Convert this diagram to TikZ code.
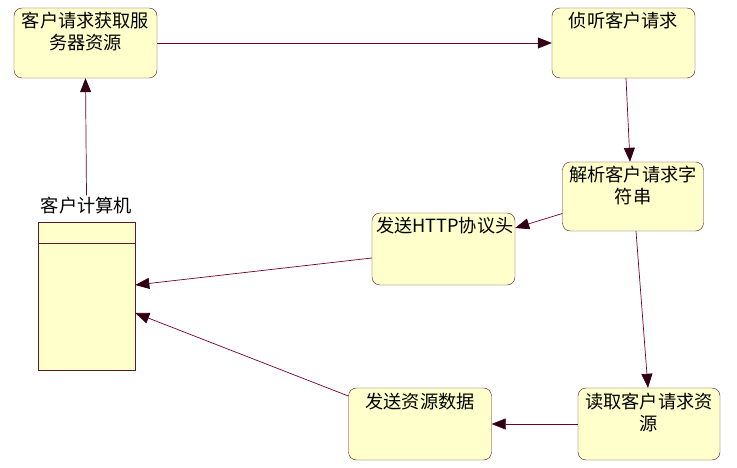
\documentclass[tikz,border=0pt]{standalone}
\definecolor{BoxFill}{RGB}{255,255,204}
\definecolor{BoxLine}{RGB}{96,24,40}
\definecolor{FlowLine}{RGB}{110,0,50}
\definecolor{TipDark}{RGB}{50,0,20}
\usepackage{fontspec}
\newfontfamily\cjk{Noto Sans CJK SC}
\usepackage{tikz}
\usetikzlibrary{arrows.meta,positioning,calc}

\begin{document}
\begin{tikzpicture}[x=1pt,y=-1pt,
  stepbox/.style={draw=BoxLine,fill=BoxFill,rounded corners=8pt,inner sep=4pt,
    text width=135pt,align=center,text height=16pt,text depth=46pt,
    font=\cjk\fontsize{18.2}{22}\selectfont},
  flow/.style={draw=FlowLine,line width=0.7pt,-{Triangle[length=14pt,width=11pt,fill=TipDark,color=TipDark]}}]
  \useasboundingbox (0,0) rectangle (737,468);
  \node[stepbox] (req) at (85.5,43) {客户请求获取服\\务器资源};
  \node[stepbox] (listen) at (623.5,43) {侦听客户请求};
  \node[stepbox,text width=133pt,text depth=45pt] (parse) at (633,196.5) {解析客户请求字\\符串};
  \node[stepbox,text depth=48pt] (head) at (443.5,249) {发送HTTP协议头};
  \node[stepbox,text depth=48pt] (send) at (420,424) {发送资源数据};
  \node[stepbox,text width=134pt,text depth=48pt] (read) at (649,424) {读取客户请求资\\源};
  \node[draw=BoxLine,fill=BoxFill,line width=0.6pt,minimum width=97pt,minimum height=148pt,inner sep=0pt] (pc) at (86.5,296) {};
  \draw[BoxLine,line width=0.6pt] ($(pc.north west)+(0,22)$) -- ($(pc.north east)+(0,22)$);
  \node[above=5pt of pc,font=\cjk\fontsize{18.2}{22}\selectfont,inner sep=2pt] (pclabel) {客户计算机};
  \draw[flow] (req.east) -- (listen.west);
  \draw[flow] (pclabel.north) -- (req.south);
  \draw[flow] ([xshift=2.5pt]listen.south) -- ([xshift=-3pt]parse.north);
  \draw[flow] ([yshift=-17pt]parse.west) -- ([yshift=21pt]head.east);
  \draw[flow] ([xshift=3pt]parse.south) -- ([xshift=-1pt]read.north);
  \draw[flow] (read.west) -- (send.east);
  \draw[flow] ([yshift=-9pt]head.west) -- ([yshift=11pt]pc.east);
  \draw[flow] ([yshift=28pt]send.west) -- ([yshift=-17pt]pc.east);
\end{tikzpicture}
\end{document}
